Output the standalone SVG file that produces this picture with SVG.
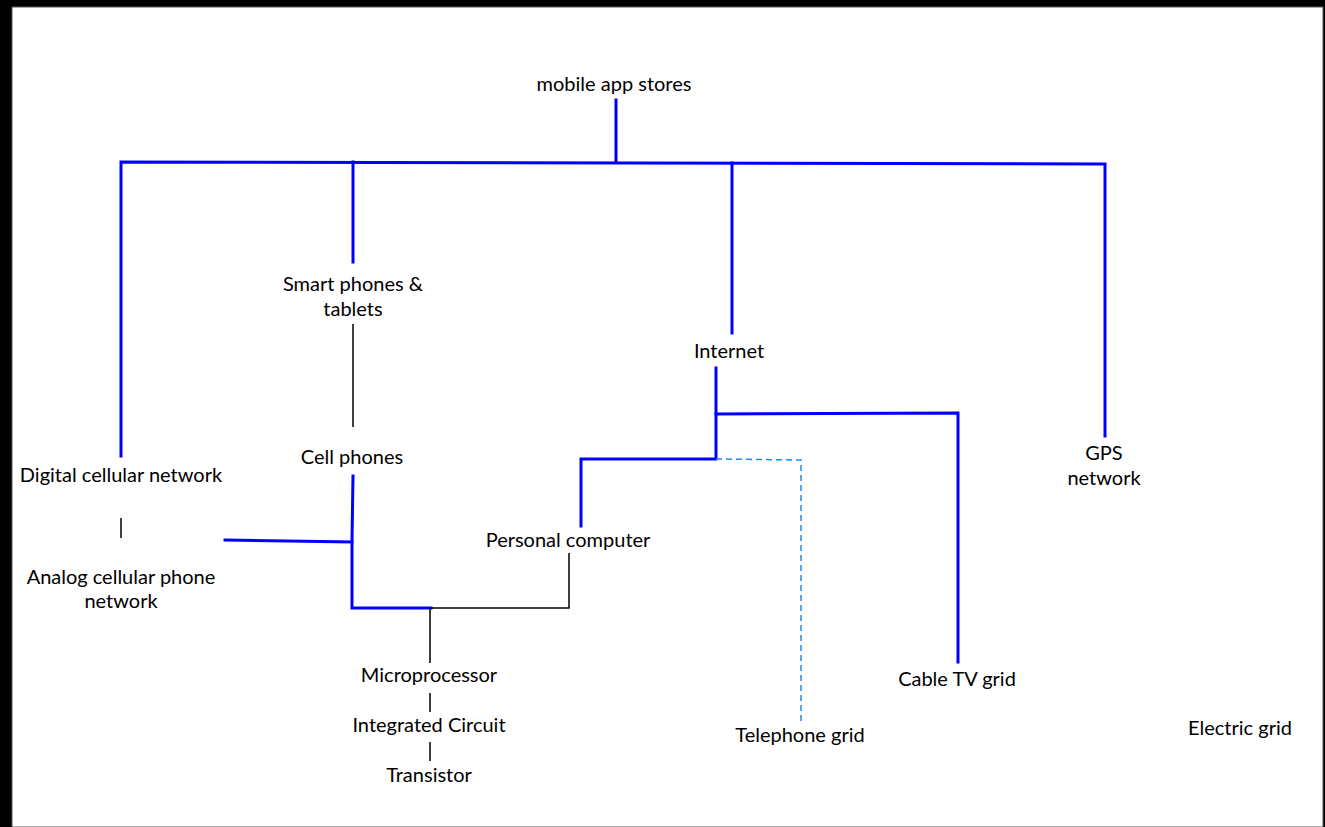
<svg xmlns="http://www.w3.org/2000/svg" width="1325" height="827" viewBox="0 0 1325 827">
<style>
text{font-family:"Lato","Open Sans","Liberation Sans",sans-serif;font-size:20px;fill:#000;text-anchor:middle}
.b{stroke:#0000ff;stroke-width:3;fill:none;stroke-linecap:square}
.k{stroke:#000;stroke-width:1.5;fill:none}
.d{stroke:#1e88ff;stroke-width:1.5;fill:none;stroke-dasharray:6 4}
</style>
<rect x="0" y="0" width="1325" height="827" fill="#000"/>
<rect x="12" y="7" width="1311" height="820" fill="#fff" stroke="#555" stroke-width="1"/>
<g id="connectors">
<path class="b" d="M616 100V162"/>
<path class="b" d="M121 456V162L1105 164V436"/>
<path class="b" d="M353 162V262"/>
<path class="b" d="M732 163V333"/>
<path class="k" d="M353 324V427"/>
<path class="b" d="M353 476L352 541L352 608H431"/>
<path class="b" d="M225 540L352 542"/>
<path class="k" d="M431 608H569V553"/>
<path class="k" d="M121 518V538"/>
<path class="k" d="M430 608V663"/>
<path class="k" d="M430 693V712"/>
<path class="k" d="M430 742V761"/>
<path class="b" d="M581 526V459H716V368"/>
<path class="b" d="M716 414L958 413V662"/>
<path class="d" d="M716 459L801 460V722"/>
</g>
<g id="n-app"><text x="614" y="91">mobile app stores</text></g>
<g id="n-smart"><text x="353" y="291">Smart phones &amp;</text><text x="353" y="316">tablets</text></g>
<g id="n-internet"><text x="729" y="358">Internet</text></g>
<g id="n-gps"><text x="1104" y="460">GPS</text><text x="1104" y="485">network</text></g>
<g id="n-digital"><text x="121" y="482">Digital cellular network</text></g>
<g id="n-cell"><text x="352" y="464">Cell phones</text></g>
<g id="n-analog"><text x="121" y="584">Analog cellular phone</text><text x="121" y="608">network</text></g>
<g id="n-pc"><text x="568" y="547">Personal computer</text></g>
<g id="n-micro"><text x="429" y="682">Microprocessor</text></g>
<g id="n-ic"><text x="429" y="732">Integrated Circuit</text></g>
<g id="n-trans"><text x="429" y="782">Transistor</text></g>
<g id="n-tel"><text x="800" y="742">Telephone grid</text></g>
<g id="n-cable"><text x="957" y="686">Cable TV grid</text></g>
<g id="n-elec"><text x="1240" y="735">Electric grid</text></g>
</svg>
